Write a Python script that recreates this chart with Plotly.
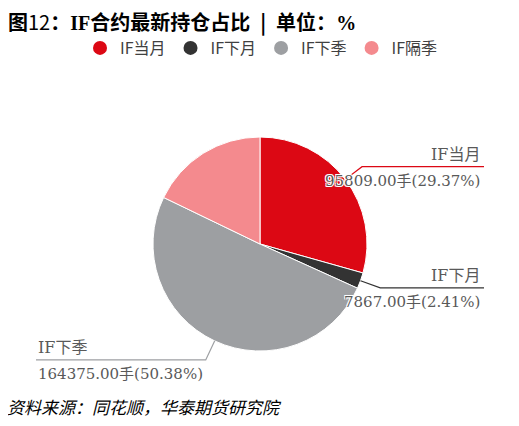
import math
import plotly.graph_objects as go

# ---- data ----
categories = ["IF当月", "IF下月", "IF下季", "IF隔季"]
positions = [95809.00, 7867.00, 164375.00, 58203.00]
colors = ["#DC0814", "#333333", "#9D9FA2", "#F48A8E"]
labelled = [True, True, True, False]

title_text = ("<b>图</b>12<b>：</b><b><span style='font-family:Liberation Serif'>IF</span>"
              "合约最新持仓占比\u2002|\u2002单位：<span style='font-family:Liberation Serif'>%</span></b>")
source_text = "资料来源：同花顺，华泰期货研究院"

# ---- layout constants (pixels in the window) ----
OX, OY = 8, 8            # page body offset
W, H = 519 - OX, 426 - OY
cx, cy, R = 260, 244, 107
L1 = 21
x_right, x_left = 484, 36

def px(x):
    return (x - OX) / W

def py(y):
    return 1 - (y - OY) / H

fig = go.Figure()
fig.add_trace(go.Pie(
    labels=categories, values=positions, sort=False, direction="clockwise",
    rotation=0, marker=dict(colors=colors, line=dict(color="#ffffff", width=1)),
    textinfo="none", hoverinfo="label+value+percent", showlegend=False,
    domain=dict(x=[px(cx - R), px(cx + R)], y=[py(cy + R), py(cy - R)]),
))

# legend entries as circle markers
for name, col in zip(categories, colors):
    fig.add_trace(go.Scatter(x=[None], y=[None], mode="markers", name=name,
                             marker=dict(color=col, size=14, symbol="circle")))

total = sum(positions)
shapes, annotations = [], []
cum = 0.0
shadow = "1px 1px 0 #fff, -1px -1px 0 #fff, 1px -1px 0 #fff, -1px 1px 0 #fff"
for name, v, col, lab in zip(categories, positions, colors, labelled):
    frac = v / total
    mid = cum + frac / 2
    cum += frac
    if not lab:
        continue
    th = 2 * math.pi * mid
    ex, ey = cx + R * math.sin(th), cy - R * math.cos(th)
    bx, by = cx + (R + L1) * math.sin(th), cy - (R + L1) * math.cos(th)
    right = math.sin(th) >= 0
    endx = x_right if right else x_left
    shapes.append(dict(type="path", xref="paper", yref="paper",
                       path=f"M {px(ex)} {py(ey)} L {px(bx)} {py(by)} L {px(endx)} {py(by)}",
                       line=dict(color=col, width=1.2)))
    tx = endx - 2 if right else endx
    anchor = "right" if right else "left"
    fname = dict(family="DejaVu Serif, Noto Sans CJK SC", size=16, color="#595959",
                 shadow=shadow)
    fval = dict(family="DejaVu Serif, Noto Sans CJK SC", size=15, color="#595959",
                shadow=shadow)
    annotations.append(dict(x=px(tx), y=py(by - 1), xref="paper", yref="paper",
                            text=name, showarrow=False, xanchor=anchor, yanchor="bottom",
                            font=fname))
    annotations.append(dict(x=px(tx), y=py(by + 3), xref="paper", yref="paper",
                            text=f"{v:.2f}手({frac*100:.2f}%)", showarrow=False,
                            xanchor=anchor, yanchor="top", font=fval))

annotations.append(dict(x=px(6), y=py(22), xref="paper", yref="paper", text=title_text,
                        showarrow=False, xanchor="left", yanchor="middle",
                        font=dict(family="Noto Sans CJK SC", size=20, color="#000000")))
annotations.append(dict(x=px(5), y=py(406), xref="paper", yref="paper",
                        text=f"<i>{source_text}</i>", showarrow=False, xanchor="left",
                        yanchor="middle",
                        font=dict(family="Noto Sans CJK SC", size=17, color="#000000")))

fig.update_layout(
    width=W, height=H, margin=dict(l=0, r=0, t=0, b=0),
    paper_bgcolor="#ffffff", plot_bgcolor="#ffffff",
    xaxis=dict(visible=False), yaxis=dict(visible=False),
    showlegend=True,
    legend=dict(orientation="h", x=px(80), xanchor="left", y=py(48), yanchor="middle",
                font=dict(family="Noto Sans CJK SC", size=16, color="#404040"),
                itemwidth=30, bgcolor="rgba(0,0,0,0)"),
    shapes=shapes, annotations=annotations,
)

fig.write_html("out.html")
